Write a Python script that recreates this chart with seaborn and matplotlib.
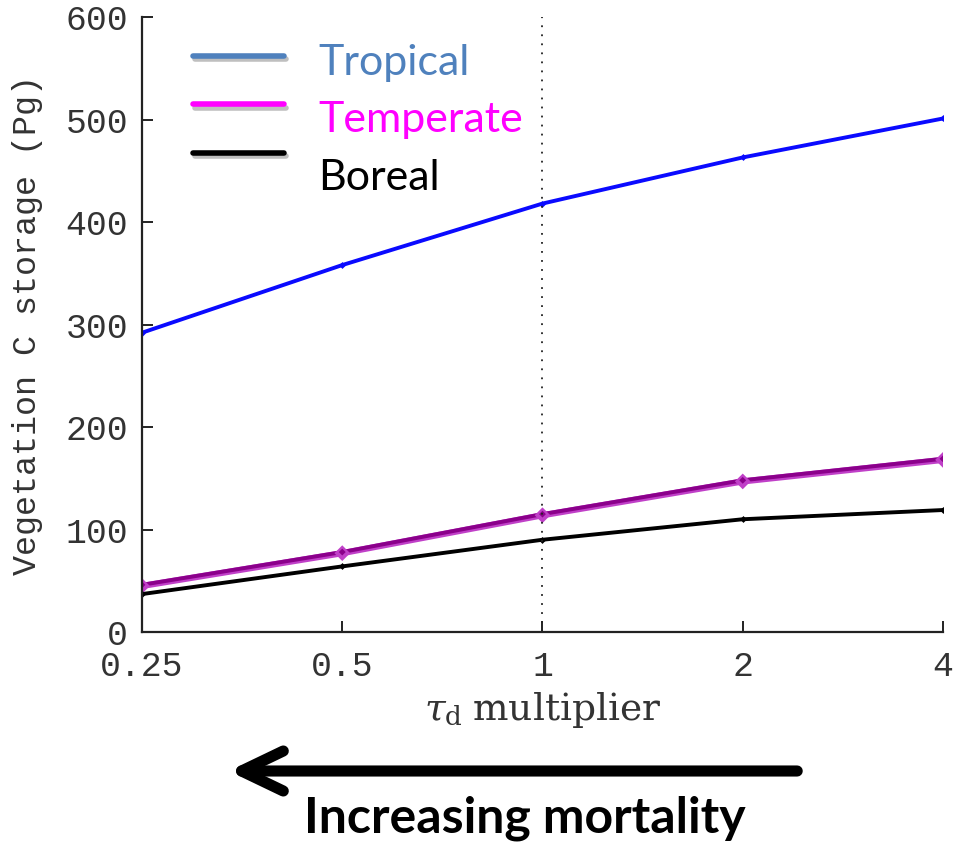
import numpy as np
import pandas as pd
import matplotlib
matplotlib.use("Agg")
import matplotlib.pyplot as plt
import matplotlib.patheffects as pe
from matplotlib.patches import FancyArrowPatch
import seaborn as sns

# tau_d multiplier and vegetation carbon storage (Pg) per forest biome
multipliers = [0.25, 0.5, 1, 2, 4]
tropical = [292, 358, 418, 463, 501]
temperate = [46, 78, 115, 148, 169]
boreal = [37, 64, 90, 110, 119]
biomes = ["Tropical", "Temperate", "Boreal"]
tick_labels = ["0.25", "0.5", "1", "2", "4"]

line_colors = {"Tropical": "#0a0aff", "Temperate": "#8b008b", "Boreal": "#000000"}
legend_line_colors = ["#4f81bd", "#ff00ff", "#000000"]
legend_text_colors = ["#4f81bd", "#ff00ff", "#000000"]

df = pd.DataFrame({
    "multiplier": multipliers * 3,
    "storage": tropical + temperate + boreal,
    "biome": [b for b in biomes for _ in multipliers],
})

sns.set_theme(style="white")
plt.rcParams["font.family"] = ["Liberation Mono", "DejaVu Sans"]
plt.rcParams["mathtext.fontset"] = "dejavuserif"

fig = plt.figure(figsize=(9.55, 8.43), dpi=100)
ax = fig.add_axes([0.1487, 0.2503, 0.8387, 0.7295])

sns.lineplot(data=df, x="multiplier", y="storage", hue="biome",
             palette=line_colors, hue_order=biomes, ax=ax, legend=False,
             linewidth=2.8, marker="D", markersize=3.5, markeredgewidth=0)

# soft magenta under-stroke on the temperate curve
for line in ax.get_lines():
    if line.get_color() == "#8b008b":
        line.set_path_effects([pe.Stroke(linewidth=4.5, foreground="#c040c8", offset=(0, -0.8)),
                               pe.Normal()])

ax.set_xscale("log", base=2)
ax.set_xlim(0.25, 4)
ax.set_ylim(0, 600)
ax.set_xticks(multipliers)
ax.set_xticklabels(tick_labels)
ax.set_yticks(range(0, 601, 100))
ax.minorticks_off()
ax.axvline(1, color="#222222", linestyle=(0, (1, 4)), linewidth=1.3)

for side in ("top", "right"):
    ax.spines[side].set_visible(False)
for side in ("left", "bottom"):
    ax.spines[side].set_color("#222222")
    ax.spines[side].set_linewidth(1.6)

ax.tick_params(axis="both", direction="in", length=8, width=1.4, colors="#222222",
               labelsize=25, labelcolor="#333333", left=True, bottom=True)
ax.tick_params(axis="x", pad=13)
ax.tick_params(axis="y", pad=10)
ax.set_ylabel("Vegetation C storage (Pg)", fontsize=24, color="#333333", labelpad=16)
ax.set_xlabel(r"$\tau_{\rm d}\;$multiplier", fontsize=27, color="#333333", labelpad=5,
              family="DejaVu Serif")

# legend: swatches sit above the label centres, with a soft drop shadow
def swatch(color, lift):
    return plt.Line2D([], [], color=color, linewidth=4, path_effects=[
        pe.SimpleLineShadow(offset=(1.5, lift - 2.5), shadow_color="gray", alpha=0.5),
        pe.Stroke(offset=(0, lift), linewidth=4, foreground=color)])

handles = [swatch(c, lift) for c, lift in zip(legend_line_colors, [3.0, 9.5, 15.8])]
leg = ax.legend(handles, biomes, loc="upper left", bbox_to_anchor=(0.064, 0.956),
                frameon=False, borderpad=0, borderaxespad=0,
                handlelength=2.1, handletextpad=0.8, labelspacing=0.45,
                prop={"family": "Lato", "size": 31})
for txt, c in zip(leg.get_texts(), legend_text_colors):
    txt.set_color(c)

# direction-of-mortality arrow below the axis
arrow = FancyArrowPatch((800 / 955, 1 - 771 / 843), (226 / 955, 1 - 771 / 843),
                        transform=fig.transFigure, arrowstyle="->,head_length=1.25,head_width=0.6",
                        mutation_scale=24, linewidth=8, color="black",
                        capstyle="round", joinstyle="round")
fig.patches.append(arrow)
fig.text(525 / 955, 1 - 818 / 843, "Increasing mortality", ha="center", va="center",
         fontsize=36, fontweight="bold", family="Lato", color="black")

fig.savefig("out.png", dpi=100)
